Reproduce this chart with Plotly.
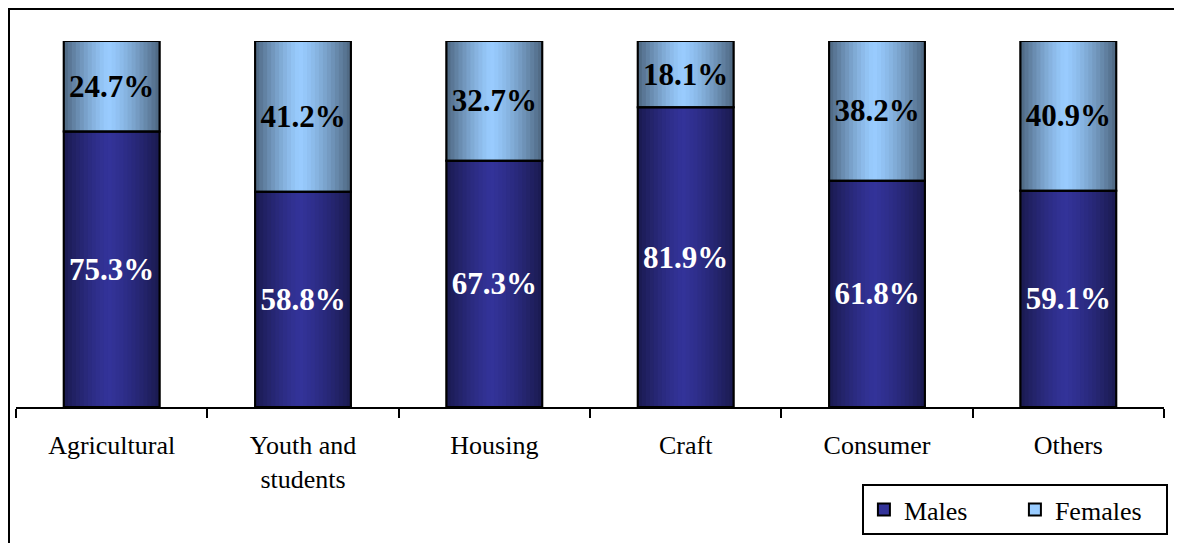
import plotly.graph_objects as go

categories = ["Agricultural", "Youth and<br>students", "Housing", "Craft", "Consumer", "Others"]
males = [75.3, 58.8, 67.3, 81.9, 61.8, 59.1]
females = [24.7, 41.2, 32.7, 18.1, 38.2, 40.9]

MALE_C = (0x33, 0x33, 0x99)
MALE_EDGE = (0x1a, 0x1a, 0x4f)
FEM_C = (0x99, 0xCC, 0xFF)
FEM_EDGE = (0x4d, 0x66, 0x80)

SERIF = "'Liberation Serif', 'Times New Roman', Times, 'DejaVu Serif', serif"
BW = 0.5
N = 24
PEAK = 0.47

def mix(a, b, t):
    return "rgb(%d,%d,%d)" % tuple(round(a[i] + (b[i] - a[i]) * t) for i in range(3))

fig = go.Figure()

series = [
    ("Males", males, [0] * len(males), MALE_C, MALE_EDGE, "white"),
    ("Females", females, males, FEM_C, FEM_EDGE, "black"),
]

for name, vals, base, c, edge, tcol in series:
    fig.add_trace(go.Bar(
        x=categories, y=vals, base=base, name=name, width=BW,
        marker=dict(color="rgb(%d,%d,%d)" % c, line=dict(color="black", width=2)),
        showlegend=True, hoverinfo="skip"))
    for i in range(N):
        t = (i + 0.5) / N
        d = (PEAK - t) / PEAK if t < PEAK else (t - PEAK) / (1 - PEAK)
        col = mix(c, edge, d ** 1.3)
        w = BW / N
        fig.add_trace(go.Bar(
            x=categories, y=vals, base=base, width=w * 1.25 if i < N - 1 else w,
            offset=-BW / 2 + i * w,
            marker=dict(color=col, line=dict(width=0)),
            showlegend=False, hoverinfo="skip"))

for name, vals, base, c, edge, tcol in series:
    fig.add_trace(go.Bar(
        x=categories, y=vals, base=base, width=BW,
        marker=dict(color="rgba(0,0,0,0)", line=dict(color="black", width=2)),
        text=["<b>%.1f%%</b>" % v for v in vals], textposition="inside",
        insidetextanchor="middle", constraintext="none",
        textfont=dict(family=SERIF, size=31, color=tcol),
        textangle=0, showlegend=False, hoverinfo="skip"))

fig.update_layout(
    width=1174, height=535,
    barmode="overlay",
    paper_bgcolor="white", plot_bgcolor="white",
    margin=dict(l=8, r=18, t=33, b=136, autoexpand=False),
    font=dict(family=SERIF, size=26, color="black"),
    xaxis=dict(showline=True, linecolor="black", linewidth=2,
               ticks="outside", tickson="boundaries", ticklen=9, tickwidth=2,
               tickcolor="black", showgrid=False,
               tickfont=dict(family=SERIF, size=26, color="black"),
               ticklabelstandoff=14),
    yaxis=dict(range=[0, 100], visible=False, showgrid=False),
    legend=dict(orientation="h", xref="container", yref="container",
                x=0.988, xanchor="right", y=0.11, yanchor="top",
                bordercolor="black", borderwidth=2, bgcolor="white",
                font=dict(family=SERIF, size=26, color="black"),
                entrywidth=106, entrywidthmode="pixels",
                itemwidth=30, traceorder="normal"),
    showlegend=True,
    shapes=[dict(type="rect", xref="paper", yref="paper",
                 x0=-0.0061, x1=1.2, y0=-1.0, y1=1.0874,
                 line=dict(color="black", width=2), fillcolor="rgba(0,0,0,0)",
                 layer="above")],
)

fig.write_html("out.html")
